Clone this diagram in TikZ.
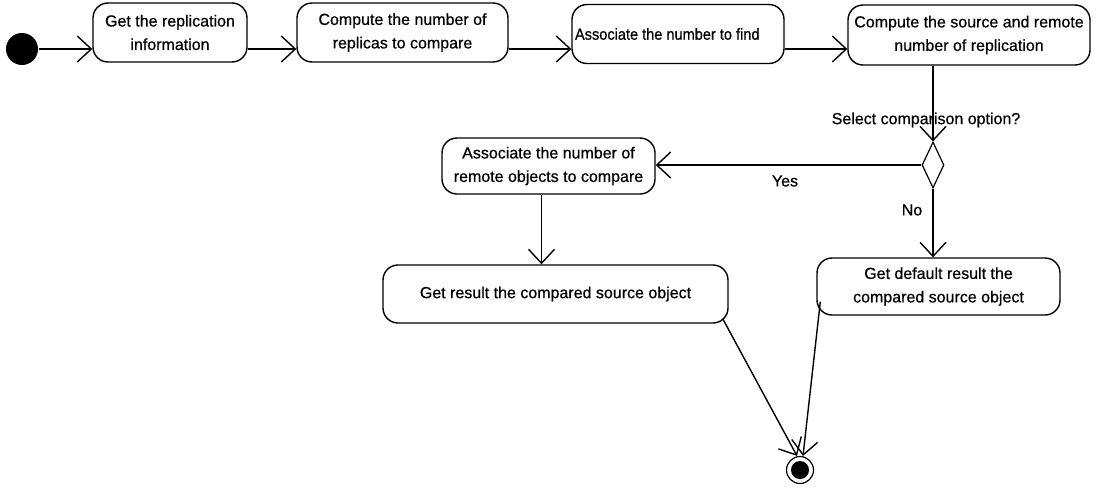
\documentclass[tikz,border=0pt]{standalone}
\usepackage{fontspec}
\setmainfont{Liberation Sans}[FakeBold=0.6]
\usetikzlibrary{arrows.meta,shapes.geometric}
\begin{document}
\begin{tikzpicture}[x=1pt,y=-1pt,
  line width=1.4pt,
  flow/.style={-{Straight Barb[length=14pt,width=26pt,line width=1.4pt]}},
  action/.style={draw,rounded corners=15pt,align=center,inner sep=2pt,
    font=\fontsize{16}{23.5}\selectfont},
  lbl/.style={font=\fontsize{16}{18}\selectfont,inner sep=0pt}]
\useasboundingbox (0,0) rectangle (1099,493);

% start and end states
\node[circle,fill=black,minimum size=32pt,inner sep=0pt] (start) at (22,49) {};
\node[circle,draw,line width=1.2pt,minimum size=27pt,inner sep=0pt] (end) at (800,470) {};
\fill (end.center) circle (9pt);

% actions
\node[action,minimum width=154pt,minimum height=59pt] (n1) at (170,32.5) {Get the replication\\information};
\node[action,minimum width=211pt,minimum height=59pt] (n2) at (402.5,32.5) {Compute the number of\\replicas to compare};
\node[action,minimum width=212pt,minimum height=59pt] (n3) at (678,34) {\makebox[206pt][l]{\scalebox{0.91}[1]{Associate the number to find}}};
\node[action,minimum width=242pt,minimum height=60pt] (n4) at (969,35) {Compute the source and remote\\number of replication};
\node[action,minimum width=213pt,minimum height=56pt] (n5) at (548.5,166) {Associate the number of\\remote objects to compare};
\node[action,minimum width=345pt,minimum height=58pt] (n6) at (555.5,294) {Get result the compared source object};
\node[action,minimum width=243pt,minimum height=57pt] (n7) at (938.5,286.5) {Get default result the\\compared source object};

% decision
\node[diamond,draw,line width=1.2pt,minimum width=22pt,minimum height=46pt,inner sep=0pt] (dec) at (933,165) {};

% main flow
\draw[flow] (start.east) -- (start -| n1.west);
\draw[flow] (n1.east |- start) -- (n2.west |- start);
\draw[flow] (n2.east |- start) -- (n3.west |- start);
\draw[flow] (n3.east |- start) -- (n4.west |- start);
\draw[flow] (dec |- n4.south) -- (dec.north);
\node[lbl] (q) at (926,120) {Select comparison option?};

% branches
\draw[flow] (dec.west) -- (n5.east |- dec);
\node[lbl] (yes) at (785,181) {Yes};
\draw[flow] (dec.south) -- (dec |- n7.north);
\node[lbl] (no) at (912,210) {No};
\draw[flow] ([xshift=-7pt]n5.south) -- ([xshift=-7pt]n5.south |- n6.north);

% to the final state
\coordinate (e6) at ([shift={(-6,-5)}]n6.south east);
\coordinate (e7) at ([shift={(4,-14)}]n7.south west);
\draw[flow] (e6) -- ([xshift=-3pt]end.north);
\draw[flow] (e7) -- ([xshift=3pt]end.north);
\end{tikzpicture}
\end{document}
